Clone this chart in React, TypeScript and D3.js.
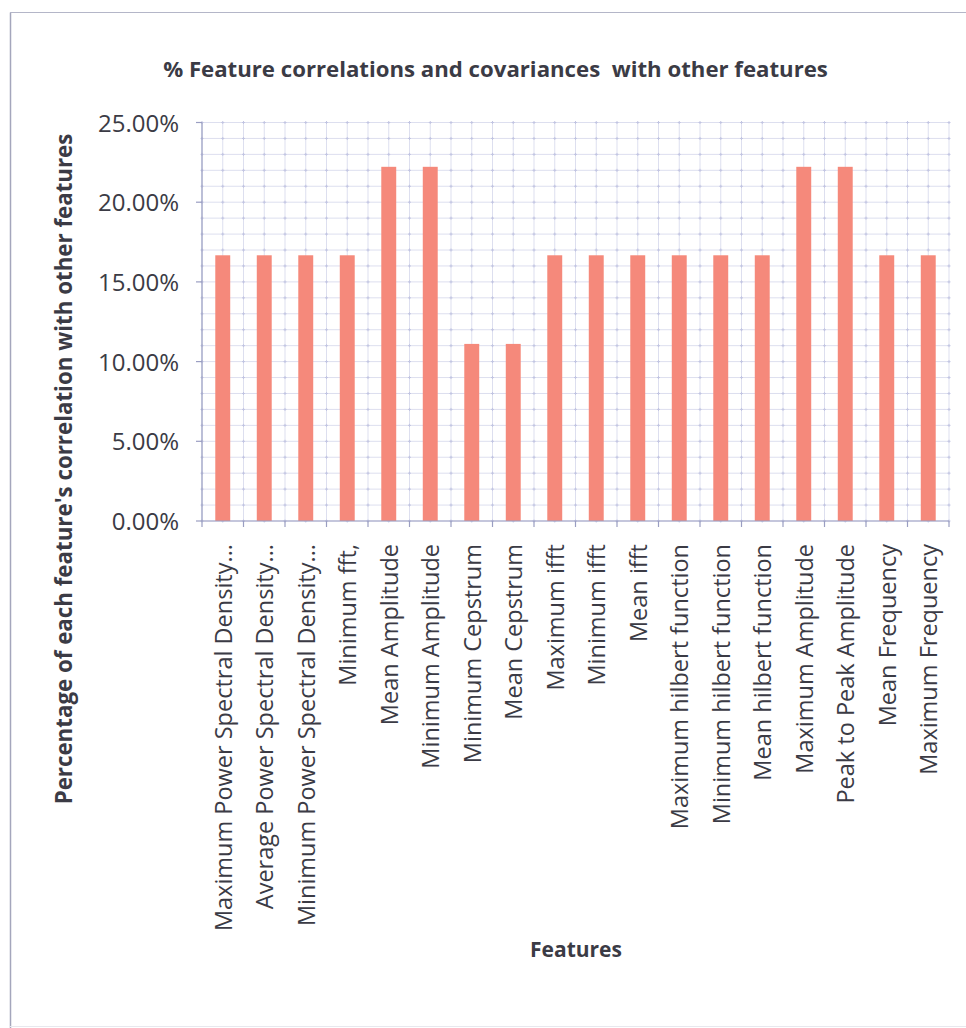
import React from "react";
import * as d3 from "d3";

const categories: string[] = [
  "Maximum Power Spectral Density...",
  "Average Power Spectral Density...",
  "Minimum Power Spectral Density...",
  "Minimum fft,",
  "Mean Amplitude",
  "Minimum Amplitude",
  "Minimum Cepstrum",
  "Mean Cepstrum",
  "Maximum ifft",
  "Minimum ifft",
  "Mean ifft",
  "Maximum hilbert function",
  "Minimum hilbert function",
  "Mean hilbert function",
  "Maximum Amplitude",
  "Peak to Peak Amplitude",
  "Mean Frequency",
  "Maximum Frequency",
];

// Share (%) of other features each feature correlates with
const values: number[] = [
  16.67, 16.67, 16.67, 16.67, 22.22, 22.22, 11.11, 11.11, 16.67, 16.67,
  16.67, 16.67, 16.67, 16.67, 22.22, 22.22, 16.67, 16.67,
];

const yTicks: number[] = [0, 5, 10, 15, 20, 25];
const yTickLabels: string[] = ["0.00%", "5.00%", "10.00%", "15.00%", "20.00%", "25.00%"];

const titleText = "% Feature correlations and covariances  with other features";
const yTitle = "Percentage of each feature's correlation with other features";
const xTitle = "Features";

const W = 966;
const H = 1028;
const plot = { left: 202, right: 949, top: 122.5, bottom: 521 };
const FONT = "'Open Sans', Lato, sans-serif";
const TEXT = "#3b3b45";
const GRID = "#dddfef";
const MARK = "#c2c5e2";
const AXIS = "#9a9ec2";
const BAR = "#f5897b";

export default function App() {
  const x = d3
    .scaleBand<string>()
    .domain(categories)
    .range([plot.left, plot.right])
    .paddingInner(0)
    .paddingOuter(0);
  const y = d3.scaleLinear().domain([0, 25]).range([plot.bottom, plot.top]);
  const bw = x.bandwidth();
  const barW = bw * 0.36;

  const minor = d3.range(0, 26, 1);
  const vLines = d3.range(0, categories.length * 2 + 1).map((i) => plot.left + (i * bw) / 2);

  return (
    <svg
      width={W}
      height={H}
      style={{ position: "absolute", left: 0, top: 0, background: "#fff" }}
      fontFamily={FONT}
    >
      <rect x={0} y={0} width={W} height={H} fill="#fff" />
      {/* chart frame */}
      <line x1={10.5} x2={10.5} y1={12.5} y2={H} stroke="#a4a6bc" strokeWidth={1.5} />
      <line x1={10} x2={W} y1={12.5} y2={12.5} stroke="#b4b6c8" strokeWidth={1.2} />
      <line x1={10} x2={W} y1={1026.5} y2={1026.5} stroke="#e8e8ee" strokeWidth={1} />

      {/* gridlines */}
      {minor.map((v) => (
        <line key={"h" + v} x1={plot.left} x2={plot.right} y1={y(v)} y2={y(v)} stroke={GRID} strokeWidth={1} />
      ))}
      {vLines.map((vx, i) => (
        <line key={"v" + i} x1={vx} x2={vx} y1={plot.top} y2={plot.bottom} stroke={GRID} strokeWidth={1} />
      ))}
      {/* intersection marks */}
      {minor.map((v) =>
        vLines.map((vx, i) => (
          <g key={"m" + v + "-" + i} stroke={MARK} strokeWidth={1}>
            <line x1={vx - 1.5} x2={vx + 1.5} y1={y(v)} y2={y(v)} />
            <line x1={vx} x2={vx} y1={y(v) - 1.5} y2={y(v) + 1.5} />
          </g>
        ))
      )}

      {/* bars */}
      {values.map((v, i) => (
        <rect
          key={"b" + i}
          x={(x(categories[i]) as number) + bw / 2 - barW / 2}
          y={y(v)}
          width={barW}
          height={y(0) - y(v)}
          fill={BAR}
        />
      ))}

      {/* axes */}
      <line x1={plot.left} x2={plot.left} y1={plot.top} y2={plot.bottom} stroke={AXIS} strokeWidth={1.2} />
      <line x1={plot.left} x2={plot.right} y1={plot.bottom} y2={plot.bottom} stroke={AXIS} strokeWidth={1.2} />
      {yTicks.map((t) => (
        <line key={"yt" + t} x1={plot.left - 6} x2={plot.left} y1={y(t)} y2={y(t)} stroke={AXIS} strokeWidth={1.2} />
      ))}
      {d3.range(0, categories.length + 1).map((i) => (
        <line
          key={"xt" + i}
          x1={plot.left + i * bw}
          x2={plot.left + i * bw}
          y1={plot.bottom}
          y2={plot.bottom + 6}
          stroke={AXIS}
          strokeWidth={1.2}
        />
      ))}

      {/* y tick labels */}
      {yTicks.map((t, i) => (
        <text key={"yl" + t} x={179} y={y(t) + 9} textAnchor="end" fontSize={24} fill={TEXT}>
          {yTickLabels[i]}
        </text>
      ))}

      {/* category labels */}
      {categories.map((c) => {
        const cx = (x(c) as number) + bw / 2 + 9;
        const cy = 544;
        return (
          <text
            key={"cl" + c}
            transform={`translate(${cx},${cy}) rotate(-90)`}
            textAnchor="end"
            fontSize={23.5}
            fill={TEXT}
          >
            {c}
          </text>
        );
      })}

      {/* titles */}
      <text
        x={495.5}
        y={77}
        textAnchor="middle"
        fontSize={22.2}
        fontWeight="bold"
        fill={TEXT}
        style={{ whiteSpace: "pre" }}
      >
        {titleText}
      </text>
      <text
        transform={`translate(72,469) rotate(-90)`}
        textAnchor="middle"
        fontSize={22.3}
        fontWeight="bold"
        fill={TEXT}
      >
        {yTitle}
      </text>
      <text x={576} y={957} textAnchor="middle" fontSize={21} fontWeight="bold" fill={TEXT}>
        {xTitle}
      </text>
    </svg>
  );
}
